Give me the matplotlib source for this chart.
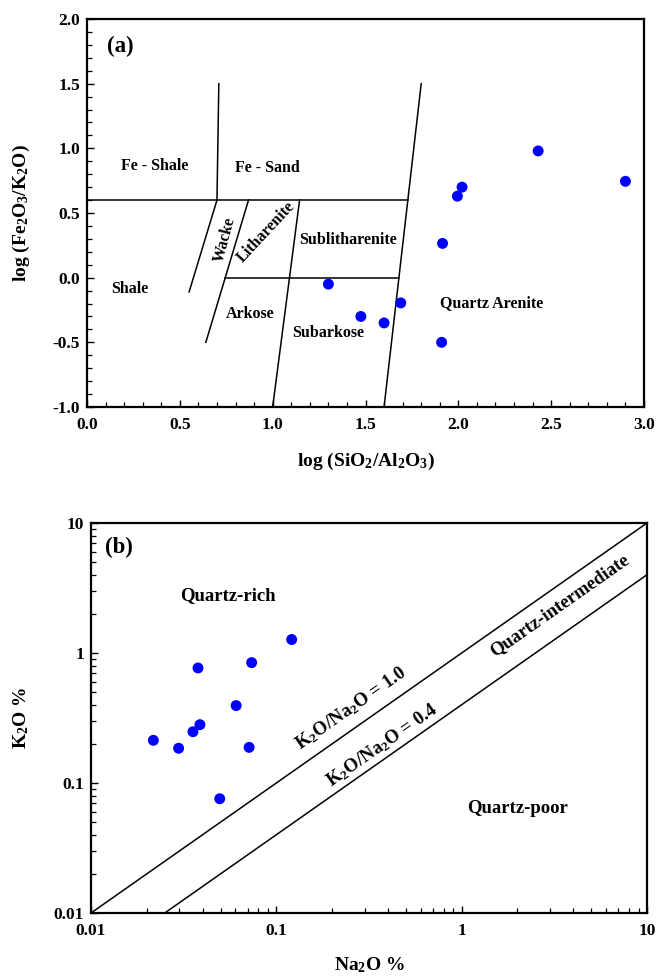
import numpy as np
import matplotlib
matplotlib.use("Agg")
import matplotlib.pyplot as plt
from matplotlib.ticker import (MultipleLocator, LogLocator, NullFormatter,
                               FixedLocator, FixedFormatter, FormatStrFormatter)

plt.rcParams['font.family'] = ['Liberation Serif', 'DejaVu Serif']
plt.rcParams['font.weight'] = 'bold'
plt.rcParams['mathtext.fontset'] = 'custom'
plt.rcParams['mathtext.rm'] = 'Liberation Serif:bold'
plt.rcParams['mathtext.it'] = 'Liberation Serif:bold'
plt.rcParams['mathtext.bf'] = 'Liberation Serif:bold'
plt.rcParams['mathtext.default'] = 'regular'

# ---- Panel (a) data: log(SiO2/Al2O3) vs log(Fe2O3/K2O)
a_x = [1.30, 1.475, 1.60, 1.69, 1.91, 1.915, 1.995, 2.02, 2.43, 2.90]
a_y = [-0.05, -0.30, -0.35, -0.195, -0.50, 0.265, 0.63, 0.70, 0.98, 0.745]

# classification boundary lines (x pairs, y pairs)
a_lines = [
    ([0.71, 0.70], [1.5, 0.6]),
    ([0.0, 1.73], [0.6, 0.6]),
    ([0.70, 0.55], [0.6, -0.11]),
    ([0.87, 0.64], [0.6, -0.50]),
    ([1.145, 1.0], [0.6, -1.0]),
    ([0.745, 1.68], [0.0, 0.0]),
    ([1.80, 1.60], [1.5, -1.0]),
]
a_labels = ["Fe - Shale", "Fe - Sand", "Wacke", "Litharenite", "Sublitharenite",
            "Shale", "Arkose", "Subarkose", "Quartz Arenite"]
a_label_x = [0.365, 0.97, 0.74, 0.962, 1.405, 0.23, 0.88, 1.30, 2.18]
a_label_y = [0.86, 0.845, 0.29, 0.355, 0.29, -0.09, -0.28, -0.43, -0.20]
a_label_rot = [0, 0, 75, 47, 0, 0, 0, 0, 0]

# ---- Panel (b) data: Na2O % vs K2O %
b_x = [0.0217, 0.0297, 0.0355, 0.0387, 0.0378, 0.0495, 0.0607, 0.0713, 0.0736, 0.121]
b_y = [0.213, 0.185, 0.248, 0.281, 0.767, 0.0757, 0.394, 0.188, 0.843, 1.27]
ratios = [1.0, 0.4]
b_ticks = [0.01, 0.1, 1, 10]
b_ticklabels = ["0.01", "0.1", "1", "10"]

W, H = 657, 980
fig = plt.figure(figsize=(W / 100, H / 100), dpi=100)

def pos(l, r, t, b):
    return [l / W, 1 - b / H, (r - l) / W, (b - t) / H]

# ---------------- Panel (a)
ax1 = fig.add_axes(pos(87, 644, 19, 407))
for xs, ys in a_lines:
    ax1.plot(xs, ys, color='black', lw=1.1)
ax1.scatter(a_x, a_y, s=62, color='#0000ff', zorder=3, edgecolors='none')
for t, x, y, r in zip(a_labels, a_label_x, a_label_y, a_label_rot):
    ax1.text(x, y, t, ha='center', va='center', rotation=r, fontsize=11.5,
             fontweight='bold', rotation_mode='anchor')
ax1.text(0.18, 1.785, "(a)", fontsize=16.5, fontweight='bold', ha='center', va='center')
ax1.set_xlim(0, 3)
ax1.set_ylim(-1, 2)
ax1.xaxis.set_major_locator(MultipleLocator(0.5))
ax1.xaxis.set_minor_locator(MultipleLocator(0.1))
ax1.yaxis.set_major_locator(MultipleLocator(0.5))
ax1.yaxis.set_minor_locator(MultipleLocator(0.1))
ax1.xaxis.set_major_formatter(FormatStrFormatter('%.1f'))
ax1.yaxis.set_major_formatter(FormatStrFormatter('%.1f'))
ax1.set_xlabel(r"log (SiO$_2$/Al$_2$O$_3$)", fontsize=14, fontweight='bold', labelpad=13)
ax1.set_ylabel(r"log (Fe$_2$O$_3$/K$_2$O)", fontsize=14, fontweight='bold', labelpad=15)

# ---------------- Panel (b)
ax2 = fig.add_axes(pos(91, 647, 523, 913))
ax2.set_xscale('log')
ax2.set_yscale('log')
ax2.set_xlim(0.01, 10)
ax2.set_ylim(0.01, 10)
for rt in ratios:
    xs = np.array([max(0.01, 0.01 / rt), 10.0])
    ax2.plot(xs, rt * xs, color='black', lw=1.1)
ax2.scatter(b_x, b_y, s=62, color='#0000ff', zorder=3, edgecolors='none')
ax2.xaxis.set_major_locator(FixedLocator(b_ticks))
ax2.xaxis.set_major_formatter(FixedFormatter(b_ticklabels))
ax2.yaxis.set_major_locator(FixedLocator(b_ticks))
ax2.yaxis.set_major_formatter(FixedFormatter(b_ticklabels))
ax2.xaxis.set_minor_locator(LogLocator(base=10, subs=np.arange(2, 10)))
ax2.yaxis.set_minor_locator(LogLocator(base=10, subs=np.arange(2, 10)))
ax2.xaxis.set_minor_formatter(NullFormatter())
ax2.yaxis.set_minor_formatter(NullFormatter())

# angle of a 1:1 line on screen
bw = (647 - 91)
bh = (913 - 523)
ang = np.degrees(np.arctan2(bh, bw))
ax2.text(0.0141, 6.5, "(b)", fontsize=16.5, fontweight='bold', ha='center', va='center')
ax2.text(0.055, 2.75, "Quartz-rich", fontsize=13.5, fontweight='bold', ha='center', va='center')
ax2.text(2.0, 0.064, "Quartz-poor", fontsize=13.5, fontweight='bold', ha='center', va='center')
ax2.text(3.38, 2.34, "Quartz-intermediate", fontsize=13.5, fontweight='bold', ha='center',
         va='center', rotation=ang, rotation_mode='anchor')
ax2.text(0.253, 0.374, r"K$_2$O/Na$_2$O = 1.0", fontsize=13.5, fontweight='bold', ha='center',
         va='center', rotation=ang, rotation_mode='anchor')
ax2.text(0.37, 0.194, r"K$_2$O/Na$_2$O = 0.4", fontsize=13.5, fontweight='bold', ha='center',
         va='center', rotation=ang, rotation_mode='anchor')
ax2.set_xlabel(r"Na$_2$O %", fontsize=14, fontweight='bold', labelpad=12)
ax2.set_ylabel(r"K$_2$O %", fontsize=14, fontweight='bold', labelpad=16)

for ax in (ax1, ax2):
    for s in ax.spines.values():
        s.set_linewidth(1.6)
    ax.tick_params(which='both', direction='in', top=False, right=False, labelsize=12.5)
    ax.tick_params(which='major', length=5, width=1.0)
    ax.tick_params(which='minor', length=3.5, width=0.9)
    ax.tick_params(axis='x', which='major', pad=7)
    ax.tick_params(axis='y', which='major', pad=5)
    for lab in ax.get_xticklabels() + ax.get_yticklabels():
        lab.set_fontweight('bold')

fig.savefig("out.png", dpi=100)
